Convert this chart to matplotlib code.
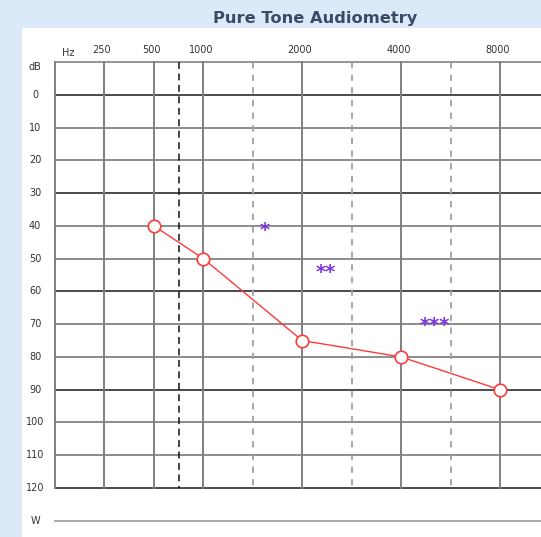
import matplotlib
matplotlib.use("Agg")
import matplotlib.pyplot as plt
from matplotlib.patches import Rectangle

# frequency columns (slot index on the chart, label)
freq_labels = ["250", "500", "1000", "2000", "4000", "8000"]
freq_slots = [1, 2, 3, 5, 7, 9]
solid_slots = [0, 1, 2, 3, 5, 7, 9]
dashed_gray_slots = [4, 6, 8]
dashed_black_slots = [2.5]

db_levels = list(range(0, 130, 10))
dark_levels = [0, 30, 60, 90, 120]

# measured thresholds (500, 1000, 2000, 4000, 8000 Hz)
tone_slots = [2, 3, 5, 7, 9]
tone_db = [40, 50, 75, 80, 90]

# asterisk annotations
star_text = ["*", "**", "***"]
star_slots = [4.25, 5.47, 7.68]
star_db = [41.5, 54.3, 70.5]

W, H = 541, 537
fig = plt.figure(figsize=(W / 100, H / 100), dpi=100)
fig.patch.set_facecolor("#dce9f8")
fig.patches.append(Rectangle((22 / W, 0), 1 - 22 / W, 1 - 28 / H,
                             transform=fig.transFigure, facecolor="white",
                             edgecolor="none", zorder=-5))
fig.text(315 / W, 1 - 18 / H, "Pure Tone Audiometry", ha="center", va="center",
         fontsize=11.7, fontweight="bold", color="#3d4a66")

left, top, bottom = 55, 62, 488
ax = fig.add_axes([left / W, 1 - bottom / H, 1 - left / W, (bottom - top) / H])
ax.set_zorder(2)
ax.set_facecolor("none")
px = 49.44
xmax = (W - left) / px
ax.set_xlim(0, xmax)
ax.set_ylim(120, -10)
for s in ax.spines.values():
    s.set_visible(False)
ax.set_xticks([])
ax.set_yticks([])

# horizontal grid
ax.plot([0, xmax], [-10, -10], color="#8c8c8c", lw=1.3, clip_on=False)
for d in db_levels:
    if d in dark_levels:
        ax.plot([0, xmax], [d, d], color="#1a1a1a", lw=1.1, clip_on=False)
    else:
        ax.plot([0, xmax], [d, d], color="#8c8c8c", lw=1.4, clip_on=False)

# vertical grid
for s in solid_slots:
    ax.plot([s, s], [-10, 120], color="#808080", lw=1.4, clip_on=False)
for s in dashed_gray_slots:
    ax.plot([s, s], [-10, 120], color="#a0a0a0", lw=1.3, ls=(0, (3.5, 3.5)),
            clip_on=False)
for s in dashed_black_slots:
    ax.plot([s, s], [-10, 120], color="#111111", lw=1.1, ls=(0, (4.5, 3)),
            clip_on=False)

# W row
ax.plot([0, xmax], [130.1, 130.1], color="#a8a8a8", lw=1.4, clip_on=False)

# labels
lab_x = (35 - left) / px
for d in db_levels:
    ax.text(lab_x, d, str(d), ha="center", va="center", fontsize=7,
            color="#333333", clip_on=False)
ax.text(lab_x, -8.5, "dB", ha="center", va="center", fontsize=7,
        color="#333333", clip_on=False)
ax.text(lab_x, 130.1, "W", ha="center", va="center", fontsize=7,
        color="#333333", clip_on=False)
ax.text(0.27, -12.8, "Hz", ha="center", va="center", fontsize=7,
        color="#333333", clip_on=False)
for s, lab in zip(freq_slots, freq_labels):
    ax.text(s - 0.05, -13.8, lab, ha="center", va="center", fontsize=7,
            color="#333333", clip_on=False)

# thresholds
ax.plot(tone_slots, tone_db, color="#ff3a3a", lw=1.0, marker="o",
        markersize=9, markerfacecolor="white", markeredgecolor="#ff3a3a",
        markeredgewidth=1.2, zorder=5, clip_on=False)

for t, s, d in zip(star_text, star_slots, star_db):
    ax.text(s, d, t, ha="center", va="center", fontsize=14,
            fontweight="bold", color="#7a35e0", zorder=6)

fig.savefig("out.png", dpi=100, facecolor=fig.get_facecolor())
